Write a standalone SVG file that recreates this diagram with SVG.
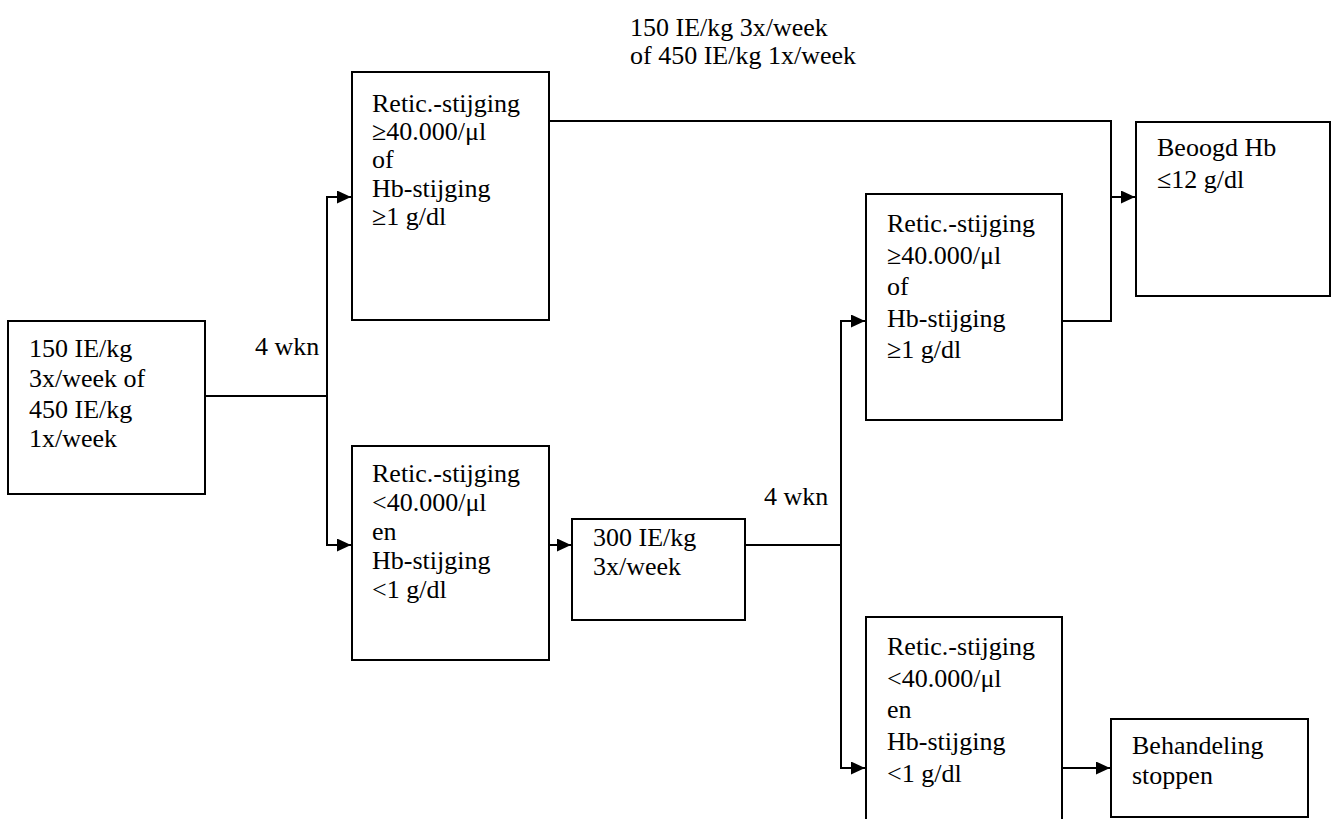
<svg xmlns="http://www.w3.org/2000/svg" width="1332" height="819" viewBox="0 0 1332 819">
<style>
  .box{fill:#fff;stroke:#000;stroke-width:2}
  .c{fill:none;stroke:#000;stroke-width:2}
</style>
<defs>
  <marker id="ah" markerUnits="userSpaceOnUse" markerWidth="16" markerHeight="14" refX="14" refY="6.5" orient="auto">
    <path d="M0,0 L14,6.5 L0,13 Z" fill="#000"/>
  </marker>
</defs>
<rect width="1332" height="819" fill="#fff"/>
<text x="630" y="36" font-size="26" font-family="Liberation Serif">150 IE/kg 3x/week</text>
<text x="630" y="64" font-size="26" font-family="Liberation Serif">of 450 IE/kg 1x/week</text>
<g id="connectors">
  <path class="c" d="M205,396 H327"/>
  <path class="c" d="M327,396 V197 H351" marker-end="url(#ah)"/>
  <path class="c" d="M327,396 V545 H351" marker-end="url(#ah)"/>
  <path class="c" d="M549,121 H1111 V197 H1135" marker-end="url(#ah)"/>
  <path class="c" d="M1062,321 H1111 V197"/>
  <path class="c" d="M549,545 H571" marker-end="url(#ah)"/>
  <path class="c" d="M745,545 H841"/>
  <path class="c" d="M841,545 V321 H865" marker-end="url(#ah)"/>
  <path class="c" d="M841,545 V768 H865" marker-end="url(#ah)"/>
  <path class="c" d="M1062,768 H1110" marker-end="url(#ah)"/>
  <text x="255" y="355" font-size="26" font-family="Liberation Serif">4 wkn</text>
  <text x="764" y="505" font-size="26" font-family="Liberation Serif">4 wkn</text>
</g>
<g id="nodeA">
  <rect class="box" x="8" y="321" width="197" height="173"/>
  <text x="29" y="357" font-size="26" font-family="Liberation Serif">150 IE/kg</text>
  <text x="29" y="387" font-size="26" font-family="Liberation Serif">3x/week of</text>
  <text x="29" y="418" font-size="26" font-family="Liberation Serif">450 IE/kg</text>
  <text x="29" y="447" font-size="26" font-family="Liberation Serif">1x/week</text>
</g>
<g id="nodeB">
  <rect class="box" x="352" y="72" width="197" height="248"/>
  <text x="372" y="112" font-size="26" font-family="Liberation Serif">Retic.-stijging</text>
  <text x="372" y="140" font-size="26" font-family="Liberation Serif">≥40.000/μl</text>
  <text x="372" y="168" font-size="26" font-family="Liberation Serif">of</text>
  <text x="372" y="197" font-size="26" font-family="Liberation Serif">Hb-stijging</text>
  <text x="372" y="225" font-size="26" font-family="Liberation Serif">≥1 g/dl</text>
</g>
<g id="nodeC">
  <rect class="box" x="352" y="446" width="197" height="214"/>
  <text x="372" y="482" font-size="26" font-family="Liberation Serif">Retic.-stijging</text>
  <text x="372" y="511" font-size="26" font-family="Liberation Serif">&lt;40.000/μl</text>
  <text x="372" y="540" font-size="26" font-family="Liberation Serif">en</text>
  <text x="372" y="569" font-size="26" font-family="Liberation Serif">Hb-stijging</text>
  <text x="372" y="598" font-size="26" font-family="Liberation Serif">&lt;1 g/dl</text>
</g>
<g id="nodeDose">
  <rect class="box" x="572" y="519" width="173" height="101"/>
  <text x="593" y="546" font-size="26" font-family="Liberation Serif">300 IE/kg</text>
  <text x="593" y="575" font-size="26" font-family="Liberation Serif">3x/week</text>
</g>
<g id="nodeD">
  <rect class="box" x="866" y="194" width="196" height="226"/>
  <text x="887" y="232" font-size="26" font-family="Liberation Serif">Retic.-stijging</text>
  <text x="887" y="264" font-size="26" font-family="Liberation Serif">≥40.000/μl</text>
  <text x="887" y="295" font-size="26" font-family="Liberation Serif">of</text>
  <text x="887" y="327" font-size="26" font-family="Liberation Serif">Hb-stijging</text>
  <text x="887" y="358" font-size="26" font-family="Liberation Serif">≥1 g/dl</text>
</g>
<g id="nodeE">
  <rect class="box" x="1136" y="122" width="194" height="174"/>
  <text x="1157" y="156" font-size="26" font-family="Liberation Serif">Beoogd Hb</text>
  <text x="1157" y="188" font-size="26" font-family="Liberation Serif">≤12 g/dl</text>
</g>
<g id="nodeF">
  <rect class="box" x="866" y="617" width="196" height="220"/>
  <text x="887" y="655" font-size="26" font-family="Liberation Serif">Retic.-stijging</text>
  <text x="887" y="687" font-size="26" font-family="Liberation Serif">&lt;40.000/μl</text>
  <text x="887" y="718" font-size="26" font-family="Liberation Serif">en</text>
  <text x="887" y="750" font-size="26" font-family="Liberation Serif">Hb-stijging</text>
  <text x="887" y="782" font-size="26" font-family="Liberation Serif">&lt;1 g/dl</text>
</g>
<g id="nodeG">
  <rect class="box" x="1111" y="719" width="197" height="98"/>
  <text x="1132" y="754" font-size="26" font-family="Liberation Serif">Behandeling</text>
  <text x="1132" y="784" font-size="26" font-family="Liberation Serif">stoppen</text>
</g>
</svg>
